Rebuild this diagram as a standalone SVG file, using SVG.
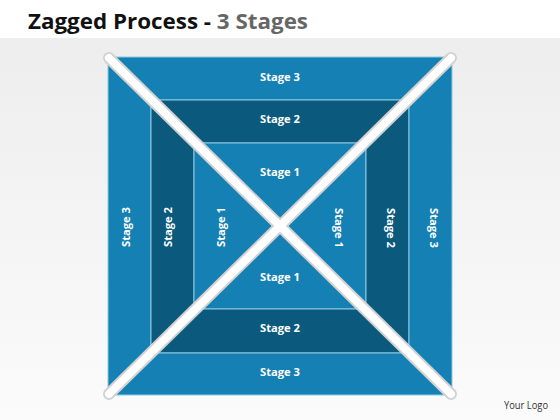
<svg xmlns="http://www.w3.org/2000/svg" width="560" height="420" viewBox="0 0 560 420">
<defs>
<linearGradient id="bg" x1="0" y1="0" x2="0" y2="1">
<stop offset="0" stop-color="#ececec"/>
<stop offset="1" stop-color="#fbfbfb"/>
</linearGradient>
<style>
.mid{fill:#1580b3;stroke:#8ec8e2;stroke-width:1}
.dark{fill:#0b5a7e;stroke:#8ec8e2;stroke-width:1}
.lbl{font-family:"Open Sans","Liberation Sans",sans-serif;font-weight:bold;font-size:11px;fill:#ffffff;text-anchor:middle}
.div-s{stroke:#d2d2d2;stroke-width:12;stroke-linecap:round;fill:none}
.div-w{stroke:#ffffff;stroke-width:8;stroke-linecap:round;fill:none}
</style>
</defs>
<rect x="0" y="0" width="560" height="420" fill="url(#bg)"/>
<rect x="0" y="0" width="560" height="38" fill="#ffffff"/>
<text x="28" y="29" font-family="'Open Sans','Liberation Sans',sans-serif" font-weight="bold" font-size="22" textLength="280" lengthAdjust="spacingAndGlyphs"><tspan fill="#111111">Zagged Process - </tspan><tspan fill="#666666">3 Stages</tspan></text>

<g id="top-stage3"><polygon class="mid" points="108,57 452,57 409,100 151,100"/><text class="lbl" x="280" y="81" textLength="40" lengthAdjust="spacingAndGlyphs">Stage 3</text></g>
<g id="top-stage2"><polygon class="dark" points="151,100 409,100 366,143 194,143"/><text class="lbl" x="280" y="123" textLength="40" lengthAdjust="spacingAndGlyphs">Stage 2</text></g>
<g id="top-stage1"><polygon class="mid" points="194,143 366,143 280,226"/><text class="lbl" x="280" y="176" textLength="40" lengthAdjust="spacingAndGlyphs">Stage 1</text></g>

<g id="bottom-stage1"><polygon class="mid" points="194,309 366,309 280,226"/><text class="lbl" x="280" y="281" textLength="40" lengthAdjust="spacingAndGlyphs">Stage 1</text></g>
<g id="bottom-stage2"><polygon class="dark" points="151,353 409,353 366,309 194,309"/><text class="lbl" x="280" y="332" textLength="40" lengthAdjust="spacingAndGlyphs">Stage 2</text></g>
<g id="bottom-stage3"><polygon class="mid" points="108,395 452,395 409,353 151,353"/><text class="lbl" x="280" y="376" textLength="40" lengthAdjust="spacingAndGlyphs">Stage 3</text></g>

<g id="left-stage3"><polygon class="mid" points="108,57 151,100 151,353 108,395"/><text class="lbl" transform="translate(130,227) rotate(-90)" x="0" y="0" textLength="40" lengthAdjust="spacingAndGlyphs">Stage 3</text></g>
<g id="left-stage2"><polygon class="dark" points="151,100 194,143 194,309 151,353"/><text class="lbl" transform="translate(172,227) rotate(-90)" x="0" y="0" textLength="40" lengthAdjust="spacingAndGlyphs">Stage 2</text></g>
<g id="left-stage1"><polygon class="mid" points="194,143 280,226 194,309"/><text class="lbl" transform="translate(225,227) rotate(-90)" x="0" y="0" textLength="40" lengthAdjust="spacingAndGlyphs">Stage 1</text></g>

<g id="right-stage1"><polygon class="mid" points="366,143 280,226 366,309"/><text class="lbl" transform="translate(335,228) rotate(90)" x="0" y="0" textLength="40" lengthAdjust="spacingAndGlyphs">Stage 1</text></g>
<g id="right-stage2"><polygon class="dark" points="409,100 366,143 366,309 409,353"/><text class="lbl" transform="translate(387,228) rotate(90)" x="0" y="0" textLength="40" lengthAdjust="spacingAndGlyphs">Stage 2</text></g>
<g id="right-stage3"><polygon class="mid" points="452,57 409,100 409,353 452,395"/><text class="lbl" transform="translate(430,228) rotate(90)" x="0" y="0" textLength="40" lengthAdjust="spacingAndGlyphs">Stage 3</text></g>

<g id="connectors">
<line class="div-s" x1="109" y1="58" x2="451" y2="394"/>
<line class="div-s" x1="451" y1="58" x2="109" y2="394"/>
<line class="div-w" x1="109" y1="58" x2="451" y2="394"/>
<line class="div-w" x1="451" y1="58" x2="109" y2="394"/>
</g>

<text x="548" y="409" text-anchor="end" font-family="'Open Sans','Liberation Sans',sans-serif" font-size="10" fill="#333333" textLength="44" lengthAdjust="spacingAndGlyphs">Your Logo</text>
</svg>
